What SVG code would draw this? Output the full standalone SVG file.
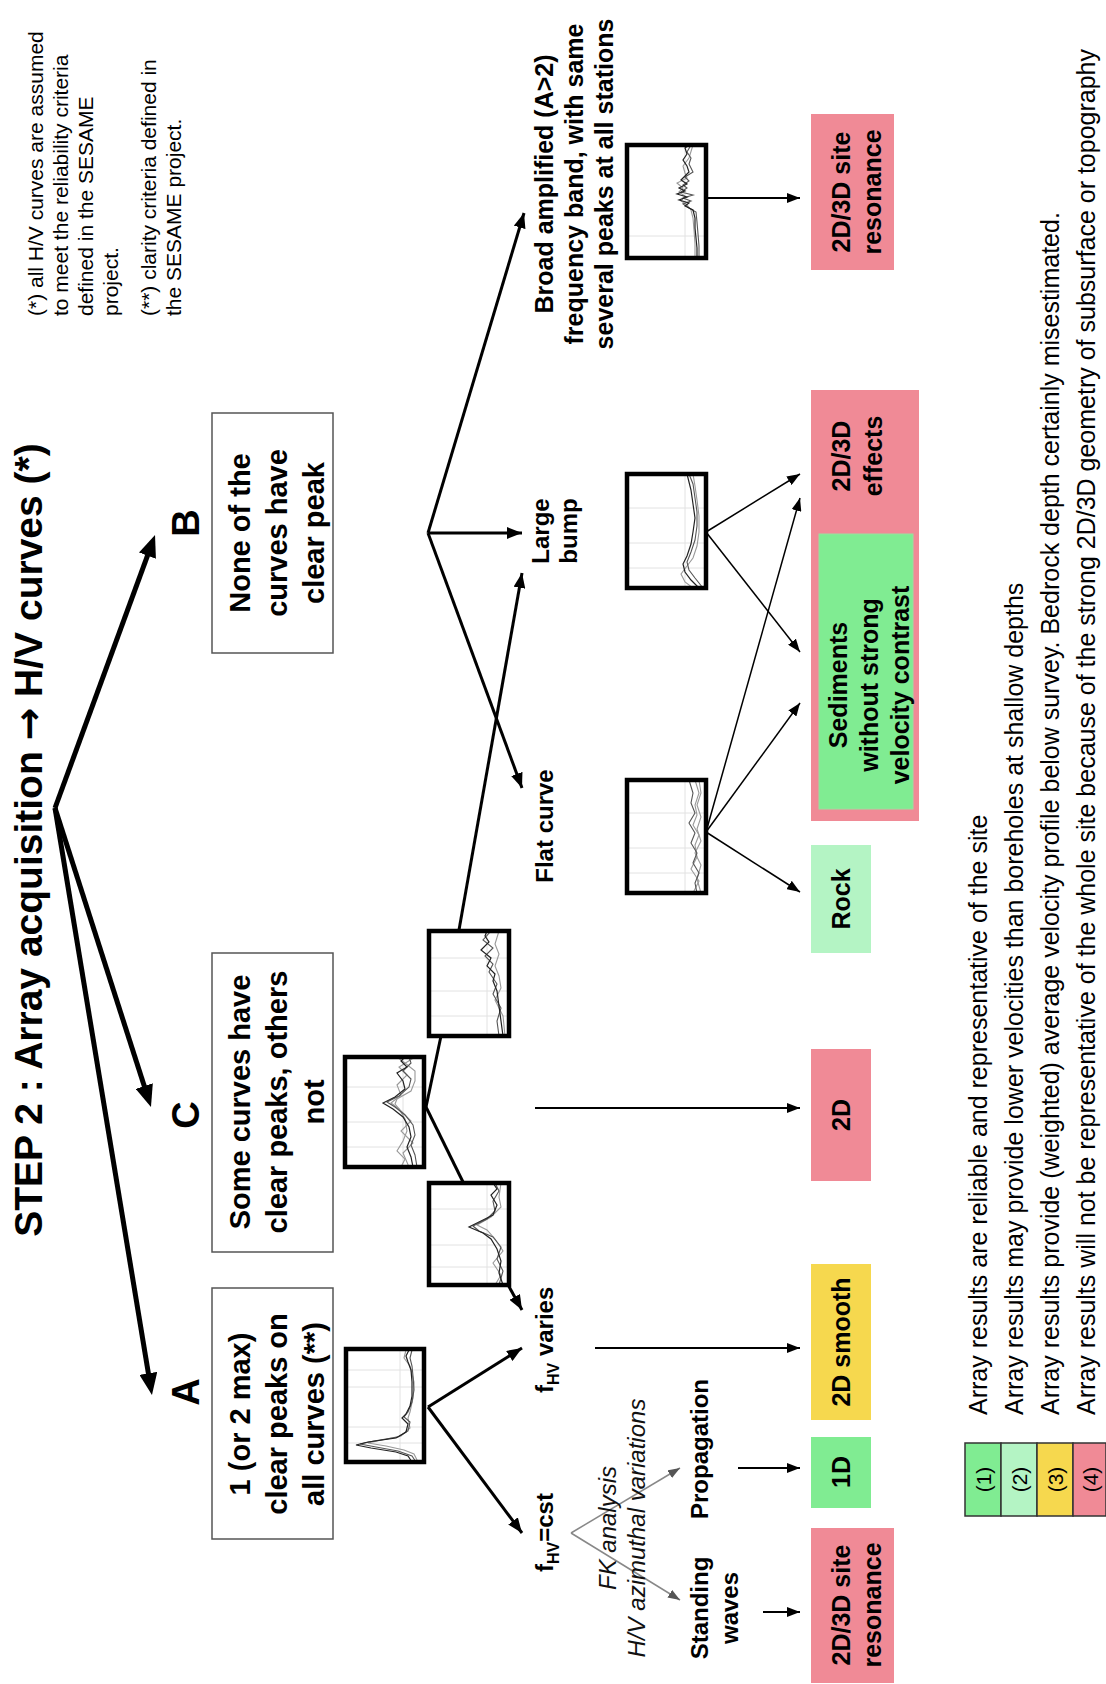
<svg xmlns="http://www.w3.org/2000/svg" width="1106" height="1684" viewBox="0 0 1106 1684">
<style>
text { font-family: "Liberation Sans", Arial, sans-serif; fill: #000; }
.title { font-size: 39px; font-weight: bold; text-anchor: middle; }
.arrowglyph { font-family: "DejaVu Sans", sans-serif; font-weight: bold; }
.note { font-size: 21px; }
.box { font-size: 29px; font-weight: bold; text-anchor: middle; }
.abc { font-size: 38px; font-weight: bold; text-anchor: middle; }
.lbl { font-size: 24px; font-weight: bold; }
.lblc { font-size: 24px; font-weight: bold; text-anchor: middle; }
.brd { font-size: 25px; font-weight: bold; text-anchor: middle; }
.res { font-size: 25px; font-weight: bold; text-anchor: middle; }
.leg { font-size: 25px; }
.legn { font-size: 21px; text-anchor: middle; }
.it { font-size: 24px; font-style: italic; text-anchor: middle; fill: #111; }
.wbox { fill: #fff; stroke: #555; stroke-width: 1.5; }
.pink { fill: #F08A96; }
.green { fill: #80EC92; }
.lgreen { fill: #B4F4C4; }
.yellow { fill: #F6D84E; }
.pf { fill: #fff; }
.pb { fill: none; stroke: #000; stroke-width: 4.5; }
.grid { stroke: #e2e2e2; stroke-width: 1; fill: none; }
.k1 { fill: none; stroke: #222; stroke-width: 1.2; }
.k2 { fill: none; stroke: #555; stroke-width: 1.1; }
.k3 { fill: none; stroke: #999; stroke-width: 1.1; }
.thick { stroke: #000; stroke-width: 5; fill: none; marker-end: url(#mThick); }
.med { stroke: #000; stroke-width: 3; fill: none; marker-end: url(#mMed); }
.plain { stroke: #000; stroke-width: 3; fill: none; }
.thin { stroke: #000; stroke-width: 2; fill: none; marker-end: url(#mThin); }
.fine { stroke: #000; stroke-width: 1.5; fill: none; marker-end: url(#mThin); }
.grey { stroke: #888; stroke-width: 1.5; fill: none; marker-end: url(#mGrey); }
</style>
<defs>
<marker id="mThick" markerUnits="userSpaceOnUse" markerWidth="22" markerHeight="18" refX="10" refY="9" orient="auto"><path d="M0,0 L22,9 L0,18 Z" fill="#000"/></marker>
<marker id="mMed" markerUnits="userSpaceOnUse" markerWidth="15" markerHeight="12" refX="15" refY="6" orient="auto"><path d="M0,0 L15,6 L0,12 Z" fill="#000"/></marker>
<marker id="mThin" markerUnits="userSpaceOnUse" markerWidth="13" markerHeight="10" refX="13" refY="5" orient="auto"><path d="M0,0 L13,5 L0,10 Z" fill="#000"/></marker>
<marker id="mGrey" markerUnits="userSpaceOnUse" markerWidth="12" markerHeight="9" refX="12" refY="4.5" orient="auto"><path d="M0,0 L12,4.5 L0,9 Z" fill="#555"/></marker>
</defs>
<rect width="1106" height="1684" fill="#fff"/>
<g transform="translate(0,1684) rotate(-90)">

<g id="title"><text class="title" x="844" y="42">STEP 2 : Array  acquisition <tspan class="arrowglyph">→</tspan> H/V curves (*)</text></g>

<g id="footnotes">
<text class="note" x="1368" y="43">(*) all H/V curves are assumed</text>
<text class="note" x="1368" y="68">to meet the reliability criteria</text>
<text class="note" x="1368" y="93">defined in the SESAME</text>
<text class="note" x="1368" y="118">project.</text>
<text class="note" x="1368" y="156">(**) clarity criteria defined in</text>
<text class="note" x="1368" y="181">the SESAME project.</text>
</g>

<g id="connectors">
<path class="thick" d="M876,55 L1137.7,150.9"/>
<path class="thick" d="M876,55 L588.4,147.3"/>
<path class="thick" d="M876,55 L300.8,150"/>
<path class="med" d="M1151,428 L1471,524"/>
<path class="med" d="M1151,428 L1151,522"/>
<path class="med" d="M1151,428 L896,522"/>
<path class="med" d="M277,428 L336,522"/>
<path class="med" d="M277,428 L151,522"/>
<path class="med" d="M754,459 L1111,522"/>
<path class="med" d="M401,507 L374,522"/>
<path class="plain" d="M577,426 L648,441"/>
<path class="plain" d="M577,426 L502,463"/>
<path class="thin" d="M1486,706 L1486,800"/>
<path class="thin" d="M576,535 L576,800"/>
<path class="thin" d="M336,595 L336,800"/>
<path class="thin" d="M216,738 L216,800"/>
<path class="thin" d="M72,763 L72,800"/>
<path class="fine" d="M1152,706 L1210,800"/>
<path class="fine" d="M1152,706 L1032,800"/>
<path class="fine" d="M852,706 L1186,800"/>
<path class="fine" d="M852,706 L981,800"/>
<path class="fine" d="M852,706 L792,800"/>
<path class="grey" d="M151,571 L216,680"/>
<path class="grey" d="M151,571 L84,680"/>
</g>

<g id="labelA"><text class="abc" x="292" y="199">A</text></g>
<g id="labelB"><text class="abc" x="1161" y="199">B</text></g>
<g id="labelC"><text class="abc" x="569" y="199">C</text></g>

<g id="boxA">
<rect class="wbox" x="145" y="212" width="251" height="121"/>
<text class="box" x="270" y="250">1 (or 2 max)</text>
<text class="box" x="270" y="287">clear peaks on</text>
<text class="box" x="270" y="324">all curves (**)</text>
</g>
<g id="boxB">
<rect class="wbox" x="1031" y="212" width="240" height="121"/>
<text class="box" x="1151" y="250">None of the</text>
<text class="box" x="1151" y="287">curves have</text>
<text class="box" x="1151" y="324">clear peak</text>
</g>
<g id="boxC">
<rect class="wbox" x="432" y="212" width="299" height="121"/>
<text class="box" x="582" y="250">Some curves have</text>
<text class="box" x="582" y="287">clear peaks, others</text>
<text class="box" x="582" y="324">not</text>
</g>

<g id="plotA" transform="translate(222,346)">
<rect class="pf" width="113" height="78"/>
<path class="grid" d="M0,54 H113 M19,0 V78 M35,0 V78 M75,0 V78 M92,0 V78"/>
<polyline class="k3" points="0,72 8,68 12,58 16,40 19,22 22,36 26,55 34,64 44,62 50,64 64,67 80,68 96,64 104,58 112,60"/>
<polyline class="k2" points="0,70 6,66 11,52 15,30 18,14 21,28 25,52 31,62 40,64 45,58 50,62 60,66 72,68 86,67 96,66 104,64 112,66"/>
<polyline class="k1" points="0,66 6,62 10,50 14,25 17,10 20,22 24,50 30,60 38,62 44,56 48,60 56,64 66,66 80,66 92,65 100,62 106,60 112,63"/>
<rect class="pb" width="113" height="78"/>
</g>

<g id="plotCmid" transform="translate(517,345)">
<rect class="pf" width="110" height="79"/>
<path class="grid" d="M0,58 H110 M20,0 V79 M45,0 V79 M80,0 V79"/>
<polyline class="k3" points="0,56 8,60 16,52 26,58 36,62 48,60 58,54 64,46 72,56 82,52 92,62 100,54 110,70"/>
<polyline class="k3" points="0,64 14,58 24,68 36,56 46,66 56,56 63,50 68,52 76,66 86,70 96,70 104,60 110,52"/>
<polyline class="k2" points="0,72 12,70 22,66 32,70 42,68 52,60 60,50 65,42 71,54 80,64 88,66 96,58 104,66 110,64"/>
<polyline class="k1" points="0,68 10,66 20,62 30,66 40,64 50,58 58,48 64,38 70,50 78,60 86,58 94,52 100,62 106,56 110,60"/>
<rect class="pb" width="110" height="79"/>
</g>

<g id="plotCupper" transform="translate(648,429)">
<rect class="pf" width="105" height="80"/>
<path class="grid" d="M0,58 H105 M20,0 V80 M45,0 V80 M78,0 V80"/>
<polyline class="k3" points="0,76 20,74 36,66 48,72 60,70 70,66 82,70 92,66 105,70"/>
<polyline class="k2" points="0,70 15,68 28,72 42,64 52,68 64,60 72,64 80,56 88,64 96,54 105,62"/>
<polyline class="k1" points="0,74 15,72 30,70 45,68 55,64 62,66 70,58 78,62 86,52 94,60 100,56 105,58"/>
<rect class="pb" width="105" height="80"/>
</g>

<g id="plotClower" transform="translate(399,429)">
<rect class="pf" width="102" height="80"/>
<path class="grid" d="M0,58 H102 M18,0 V80 M40,0 V80 M76,0 V80"/>
<polyline class="k3" points="0,66 10,72 22,64 34,74 46,66 55,58 60,48 68,62 78,72 88,70 102,72"/>
<polyline class="k2" points="0,70 14,74 26,68 38,72 48,64 54,50 59,44 66,58 74,66 84,64 94,70 102,66"/>
<polyline class="k1" points="0,74 12,70 24,72 36,68 46,62 52,54 58,40 64,52 70,64 80,68 90,62 96,68 102,64"/>
<rect class="pb" width="102" height="80"/>
</g>

<g id="plotFlat" transform="translate(791,627)">
<rect class="pf" width="113" height="79"/>
<path class="grid" d="M0,58 H113 M20,0 V79 M45,0 V79 M80,0 V79"/>
<polyline class="k3" points="0,74 14,70 28,74 40,68 52,74 64,70 76,74 88,70 100,74 113,72"/>
<polyline class="k3" points="0,66 12,72 24,64 36,70 48,68 58,72 68,66 78,70 88,68 100,72 113,68"/>
<polyline class="k2" points="0,70 10,68 20,72 30,66 40,70 50,64 60,68 70,62 80,68 90,64 100,66 113,62"/>
<rect class="pb" width="113" height="79"/>
</g>

<g id="plotBump" transform="translate(1096,627)">
<rect class="pf" width="114" height="79"/>
<path class="grid" d="M0,58 H114 M20,0 V79 M45,0 V79 M80,0 V79"/>
<polyline class="k3" points="0,66 6,58 14,54 22,60 30,66 42,70 56,72 72,72 88,70 102,68 114,66"/>
<polyline class="k2" points="0,76 10,68 18,62 26,60 36,64 48,68 62,70 76,70 90,68 104,66 114,62"/>
<polyline class="k1" points="0,72 8,64 16,58 24,56 32,60 44,64 56,66 70,68 84,66 98,64 114,60"/>
<rect class="pb" width="114" height="79"/>
</g>

<g id="plotBroad" transform="translate(1426,627)">
<rect class="pf" width="113" height="79"/>
<path class="grid" d="M0,58 H113 M22,0 V79"/>
<polyline class="k3" points="0,68 14,68 28,67 40,66 48,64 53,60 57,54 62,58 66,52 70,56 75,50 80,60 85,58 92,56 100,62 113,66"/>
<polyline class="k2" points="0,72 12,72 24,71 36,70 46,69 50,62 54,56 57,64 60,56 63,66 66,54 70,60 73,56 77,62 81,58 86,66 94,62 100,64 106,60 113,64"/>
<polyline class="k1" points="0,70 10,70 20,69 30,68 40,68 48,66 52,58 55,62 58,52 61,60 64,50 67,58 70,52 74,60 78,54 82,58 86,62 92,60 98,56 104,60 110,58 113,62"/>
<rect class="pb" width="113" height="79"/>
</g>

<g id="lblFHVvaries"><text class="lbl" x="291" y="553">f<tspan font-size="16" dy="6">HV</tspan><tspan dy="-6"> varies</tspan></text></g>
<g id="lblFHVcst"><text class="lbl" x="112" y="553">f<tspan font-size="16" dy="6">HV</tspan><tspan dy="-6">=cst</tspan></text></g>
<g id="lblFK">
<text class="it" x="156" y="616">FK analysis</text>
<text class="it" x="156" y="645">H/V azimuthal variations</text>
</g>
<g id="lblProp"><text class="lblc" x="235" y="708">Propagation</text></g>
<g id="lblStanding">
<text class="lblc" x="76" y="708">Standing</text>
<text class="lblc" x="76" y="738">waves</text>
</g>
<g id="lblLarge">
<text class="lblc" x="1153" y="549">Large</text>
<text class="lblc" x="1153" y="577">bump</text>
</g>
<g id="lblFlat"><text class="lblc" x="858" y="553">Flat curve</text></g>
<g id="lblBroad">
<text class="brd" x="1500" y="553">Broad amplified (A&gt;2)</text>
<text class="brd" x="1500" y="583">frequency band, with same</text>
<text class="brd" x="1500" y="613">several  peaks at all stations</text>
</g>

<g id="resTop">
<rect class="pink" x="1414" y="811" width="156" height="83"/>
<text class="res" x="1492" y="850">2D/3D site</text>
<text class="res" x="1492" y="881">resonance</text>
</g>
<g id="effects">
<rect class="pink" x="863" y="811" width="431" height="108"/>
<text class="res" x="1228" y="850">2D/3D</text>
<text class="res" x="1228" y="882">effects</text>
</g>
<g id="sediments">
<rect class="green" x="875" y="819" width="275" height="94" stroke="#9adf9f" stroke-width="1"/>
<text class="res" x="999" y="847">Sediments</text>
<text class="res" x="999" y="878">without strong</text>
<text class="res" x="999" y="909">velocity contrast</text>
</g>
<g id="rock">
<rect class="lgreen" x="731" y="811" width="108" height="60"/>
<text class="res" x="785" y="850">Rock</text>
</g>
<g id="box2D">
<rect class="pink" x="503" y="811" width="132" height="60"/>
<text class="res" x="569" y="850">2D</text>
</g>
<g id="box2Dsmooth">
<rect class="yellow" x="264" y="811" width="156" height="60"/>
<text class="res" x="342" y="850">2D smooth</text>
</g>
<g id="box1D">
<rect class="green" x="176" y="811" width="71" height="60"/>
<text class="res" x="212" y="850">1D</text>
</g>
<g id="resBottom">
<rect class="pink" x="1" y="811" width="155" height="83"/>
<text class="res" x="79" y="850">2D/3D site</text>
<text class="res" x="79" y="881">resonance</text>
</g>

<g id="legend">
<rect class="green" x="168" y="965" width="73" height="36" stroke="#333" stroke-width="1.5"/>
<rect class="lgreen" x="168" y="1001" width="73" height="36" stroke="#333" stroke-width="1.5"/>
<rect class="yellow" x="168" y="1037" width="73" height="36" stroke="#333" stroke-width="1.5"/>
<rect class="pink" x="168" y="1073" width="73" height="33" stroke="#333" stroke-width="1.5"/>
<text class="legn" x="204.5" y="991">(1)</text>
<text class="legn" x="204.5" y="1027">(2)</text>
<text class="legn" x="204.5" y="1063">(3)</text>
<text class="legn" x="204.5" y="1098">(4)</text>
<text class="leg" x="269" y="987">Array results are reliable and representative of the site</text>
<text class="leg" x="269" y="1023">Array results may provide lower velocities than boreholes at shallow depths</text>
<text class="leg" x="269" y="1059">Array results provide (weighted) average velocity profile below survey. Bedrock depth certainly misestimated.</text>
<text class="leg" x="269" y="1095">Array results will not be representative of the whole site because of the strong 2D/3D geometry of subsurface or topography</text>
</g>

</g>
</svg>
